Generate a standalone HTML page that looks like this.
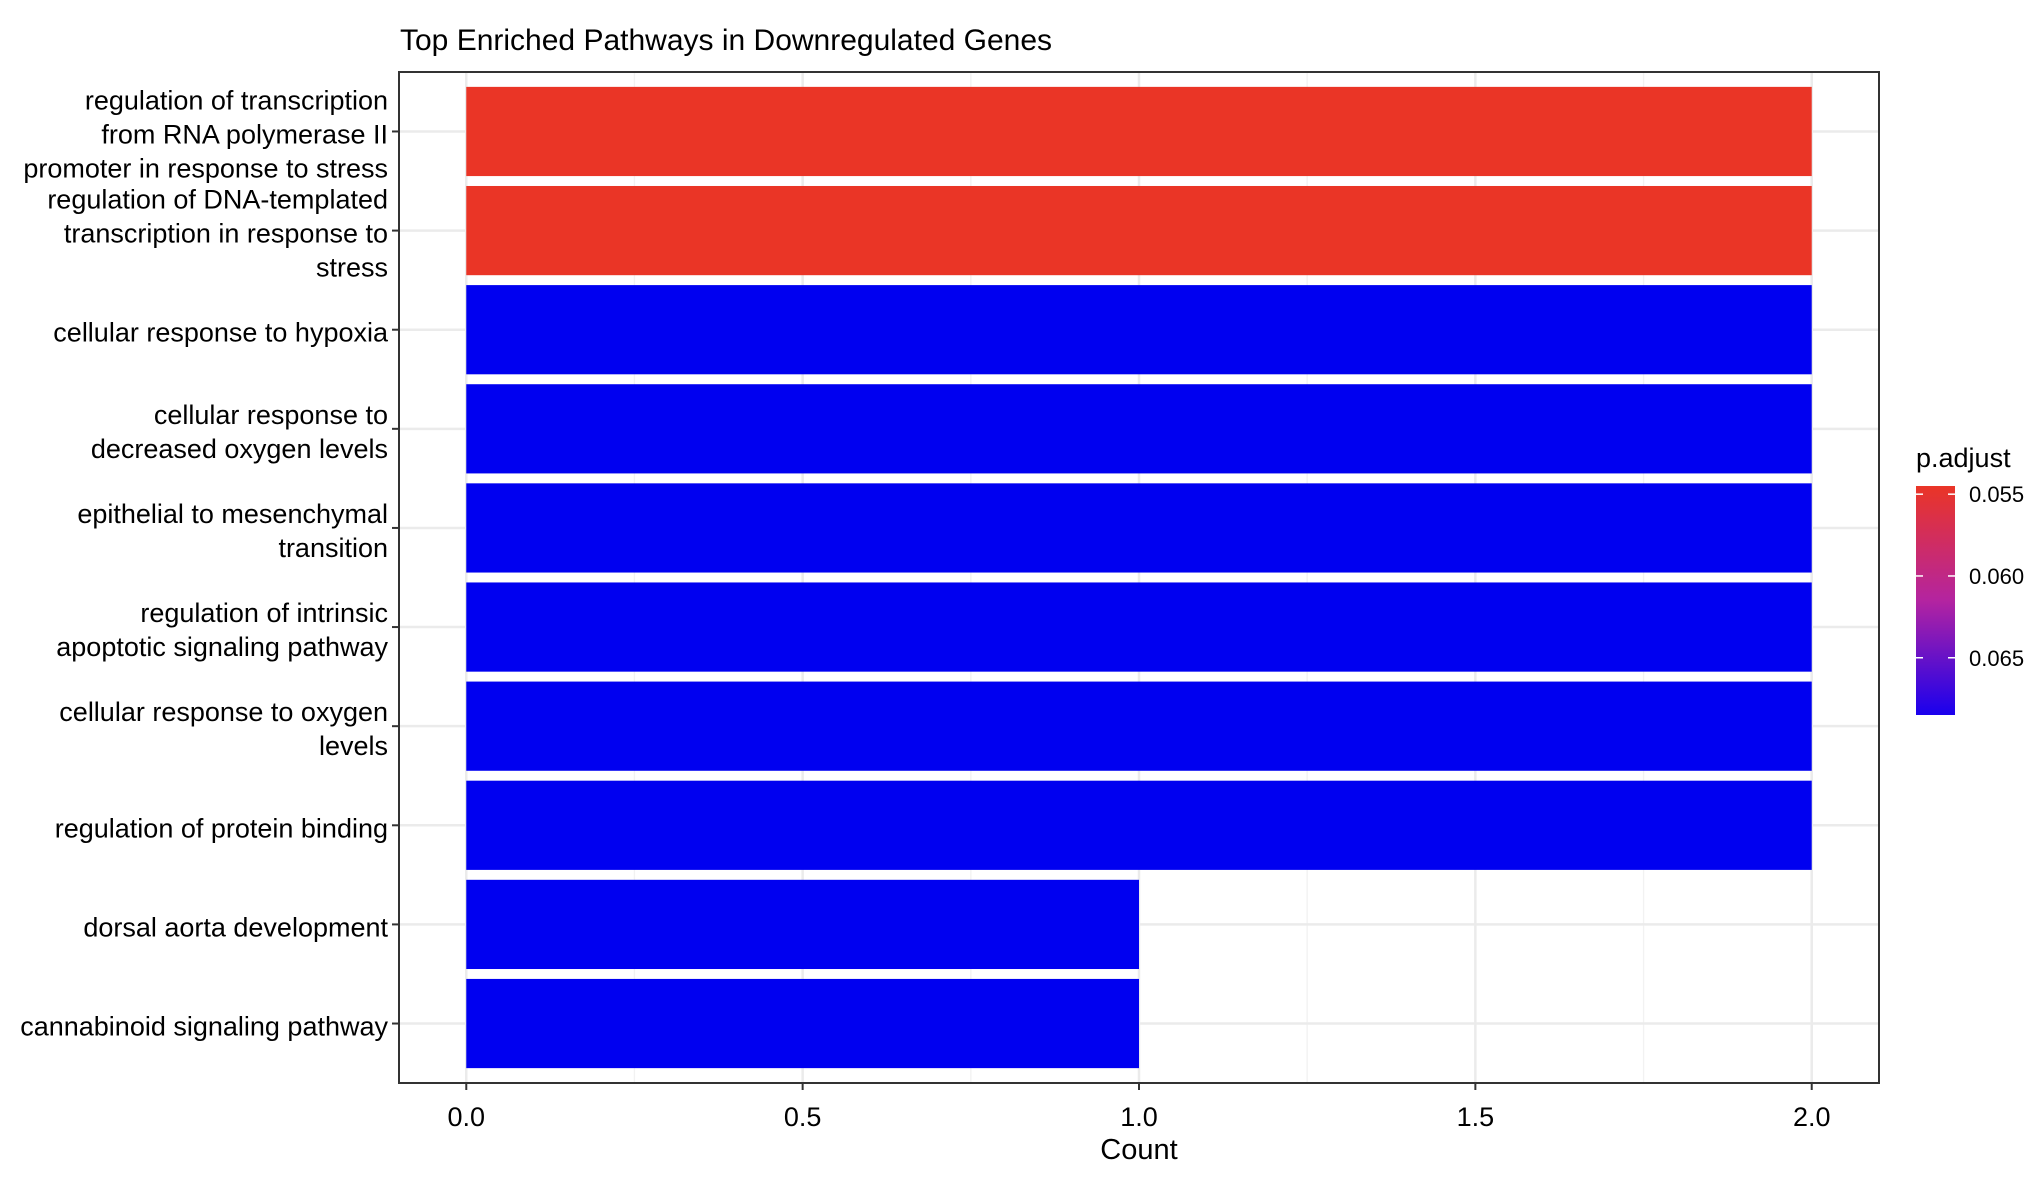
<!DOCTYPE html>
<html><head><meta charset="utf-8"><style>
body{margin:0;background:#fff}
svg text{font-family:"Liberation Sans Narrow","Liberation Sans",sans-serif;fill:#000}
</style></head><body>
<svg id="c" width="2040" height="1188" xmlns="http://www.w3.org/2000/svg">
<defs><linearGradient id="lg" x1="0" y1="0" x2="0" y2="1"><stop offset="0" stop-color="#EA3526"/><stop offset="0.5" stop-color="#B424A0"/><stop offset="1" stop-color="#1A00EE"/></linearGradient></defs>
</svg>
<script>
const categories=[
["regulation of transcription","from RNA polymerase II","promoter in response to stress"],
["regulation of DNA-templated","transcription in response to","stress"],
["cellular response to hypoxia"],
["cellular response to","decreased oxygen levels"],
["epithelial to mesenchymal","transition"],
["regulation of intrinsic","apoptotic signaling pathway"],
["cellular response to oxygen","levels"],
["regulation of protein binding"],
["dorsal aorta development"],
["cannabinoid signaling pathway"]];
const counts=[2,2,2,2,2,2,2,2,1,1];
const padjust=[0.0545,0.0545,0.0685,0.0685,0.0685,0.0685,0.0685,0.0685,0.0685,0.0685];
const xTicks=[0,0.5,1,1.5,2];
const xTickLabels=["0.0","0.5","1.0","1.5","2.0"];
const legendTicks=[0.055,0.060,0.065];
const legendLabels=["0.055","0.060","0.065"];
const svg=document.getElementById('c');const NS='http://www.w3.org/2000/svg';
function mk(t,a,p){const e=document.createElementNS(NS,t);for(const k in a)e.setAttribute(k,a[k]);(p||svg).appendChild(e);return e;}
const L=399,R=1879,T=72,B=1083;
const x=v=>L+(v+0.1)/2.2*(R-L);
const band=(B-T)/(categories.length+0.2);
const yc=i=>T+band*(0.6+i);
const pmin=0.0545,pmax=0.0685;
function col(p){const t=Math.min(1,Math.max(0,(p-pmin)/(pmax-pmin)));const a=[234,53,38],b=[0,0,240];return 'rgb('+a.map((v,k)=>Math.round(v+(b[k]-v)*t)).join(',')+')';}
let e;
e=mk('rect',{x:L,y:T,width:R-L,height:B-T,fill:'#fff'});


for(let i=0;i<xTicks.length-1;i++){e=mk('line',{x1:x((xTicks[i]+xTicks[i+1])/2),x2:x((xTicks[i]+xTicks[i+1])/2),y1:T,y2:B,stroke:'#F2F2F2','stroke-width':1.3});

}
xTicks.forEach(v=>{e=mk('line',{x1:x(v),x2:x(v),y1:T,y2:B,stroke:'#EBEBEB','stroke-width':2.5});

});
categories.forEach((c,i)=>{e=mk('line',{x1:L,x2:R,y1:yc(i),y2:yc(i),stroke:'#EBEBEB','stroke-width':2.5});

});
categories.forEach((c,i)=>{
e=mk('rect',{x:x(0),y:yc(i)-band*0.45,width:x(counts[i])-x(0),height:band*0.9,fill:col(padjust[i])});


const g=mk('text',{x:388,y:0,'text-anchor':'end','font-size':27});


const n=c.length,lh=34;
c.forEach((s,j)=>{const ts=mk('tspan',{x:388,y:yc(i)+(j-(n-1)/2)*lh+12},g);ts.textContent=s;});
e=mk('line',{x1:L-7,x2:L,y1:yc(i),y2:yc(i),stroke:'#333','stroke-width':2});


});
e=mk('rect',{x:L,y:T,width:R-L,height:B-T,fill:'none',stroke:'#333','stroke-width':2});


xTicks.forEach((v,i)=>{
e=mk('line',{x1:x(v),x2:x(v),y1:B,y2:B+7,stroke:'#333','stroke-width':2});


e=mk('text',{x:x(v),y:1126,'text-anchor':'middle','font-size':27});e.textContent=xTickLabels[i];


});
e=mk('text',{x:x(1),y:1159,'text-anchor':'middle','font-size':29});e.textContent='Count';


e=mk('text',{x:400,y:50,'font-size':30});e.textContent='Top Enriched Pathways in Downregulated Genes';


e=mk('text',{x:1916,y:467,'font-size':27});e.textContent='p.adjust';


const cbT=486,cbB=715,cbL=1916,cbW=39;
const ly=p=>cbT+(p-0.0545)/(0.0685-0.0545)*(cbB-cbT);
e=mk('rect',{x:cbL,y:cbT,width:cbW,height:cbB-cbT,fill:'url(#lg)'});


legendTicks.forEach((p,i)=>{
e=mk('line',{x1:cbL,x2:cbL+7,y1:ly(p),y2:ly(p),stroke:'#fff','stroke-width':1.5});


e=mk('line',{x1:cbL+cbW-7,x2:cbL+cbW,y1:ly(p),y2:ly(p),stroke:'#fff','stroke-width':1.5});


e=mk('text',{x:1969,y:ly(p)+8,'font-size':22});e.textContent=legendLabels[i];


});
</script>
</body></html>
